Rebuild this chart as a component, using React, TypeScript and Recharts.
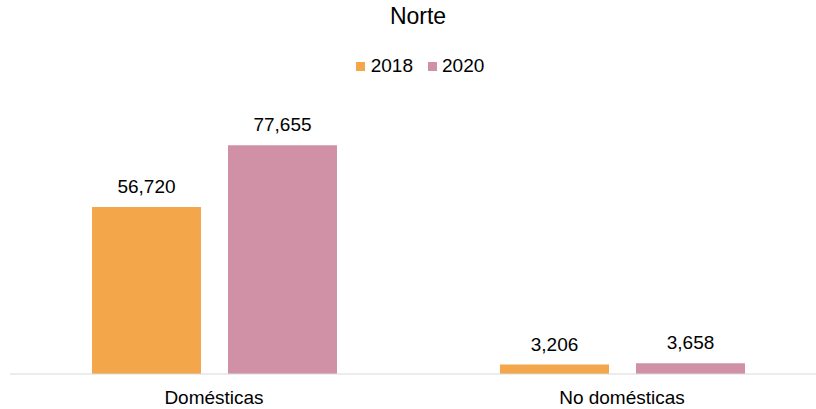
import { BarChart, Bar, XAxis, YAxis, LabelList } from 'recharts';

const categories = ['Domésticas', 'No domésticas'];
const values2018 = [56720, 3206];
const values2020 = [77655, 3658];

const data = categories.map((name, i) => ({
  name,
  y2018: values2018[i],
  y2020: values2020[i],
}));

const ORANGE = '#F4A64A';
const PINK = '#D091A7';
const FONT = 'Arial, "Liberation Sans", sans-serif';

const fmt = (v: number) => v.toLocaleString('en-US');

const LegendContent = () => (
  <div
    style={{
      display: 'flex',
      justifyContent: 'center',
      alignItems: 'center',
      fontFamily: FONT,
      fontSize: 19,
      color: '#000',
      marginLeft: 4,
    }}>
    <span style={{ width: 9, height: 9, background: ORANGE, display: 'inline-block', marginRight: 6 }} />
    <span style={{ marginRight: 15 }}>2018</span>
    <span style={{ width: 9, height: 9, background: PINK, display: 'inline-block', marginRight: 5 }} />
    <span>2020</span>
  </div>
);

export default function App() {
  return (
    <div
      style={{
        position: 'absolute',
        left: 0,
        top: 0,
        width: 816,
        height: 409,
        overflow: 'hidden',
        background: '#fff',
      }}>
      <div
        style={{
          position: 'absolute',
          top: 3,
          left: 0,
          width: 836,
          textAlign: 'center',
          fontFamily: FONT,
          fontSize: 23,
          color: '#000',
        }}>
        Norte
      </div>
      <div style={{ position: 'absolute', top: 55, left: 0, width: 836 }}>
        <LegendContent />
      </div>
      <BarChart
        width={830}
        height={409}
        data={data}
        barSize={109}
        barGap={27}
        margin={{ top: 109, right: 4, left: 10, bottom: 5 }}>
        <XAxis
          dataKey="name"
          height={30}
          axisLine={{ stroke: '#D9D9D9', strokeWidth: 1 }}
          tickLine={false}
          tickSize={0}
          tickMargin={17}
          tick={{ fill: '#000', fontSize: 19, fontFamily: FONT }}
        />
        <YAxis hide domain={[0, 90000]} />
        <Bar dataKey="y2018" name="2018" fill={ORANGE} isAnimationActive={false}>
          <LabelList
            dataKey="y2018"
            position="top"
            offset={14}
            formatter={(v: any) => fmt(Number(v))}
            style={{ fill: '#000', fontSize: 19, fontFamily: FONT }}
          />
        </Bar>
        <Bar dataKey="y2020" name="2020" fill={PINK} isAnimationActive={false}>
          <LabelList
            dataKey="y2020"
            position="top"
            offset={14}
            formatter={(v: any) => fmt(Number(v))}
            style={{ fill: '#000', fontSize: 19, fontFamily: FONT }}
          />
        </Bar>
      </BarChart>
    </div>
  );
}
